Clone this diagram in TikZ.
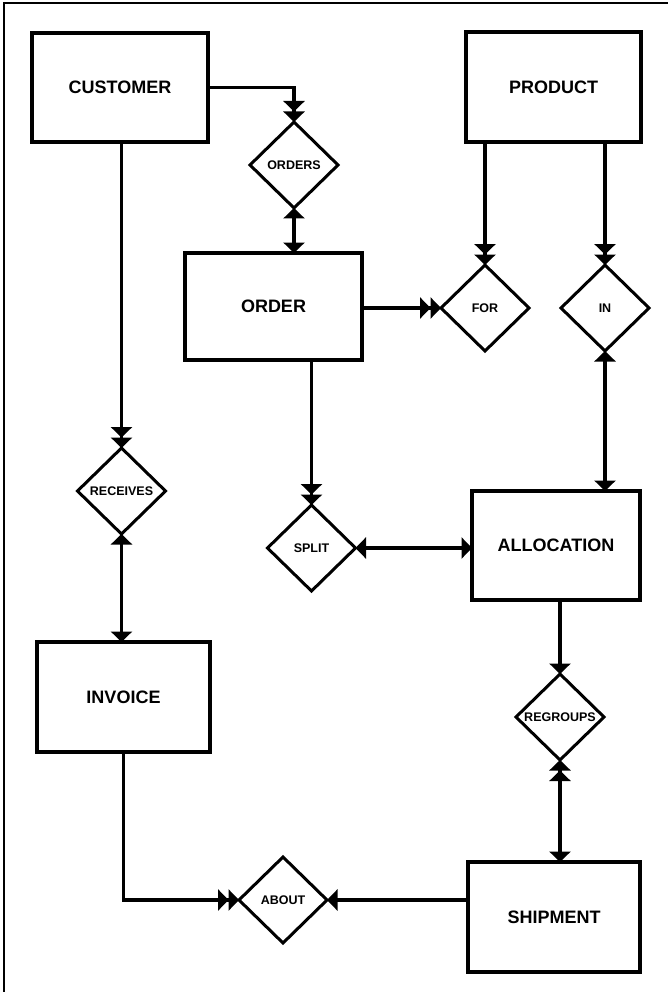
\documentclass[tikz,border=0pt]{standalone}
\usepackage{fontspec}
\setmainfont{Liberation Sans}
\usetikzlibrary{shapes.geometric,arrows.meta}
\tikzset{
  onetip/.tip={Triangle[width=21pt,length=10.5pt]},
  twotip/.tip={Triangle[width=21pt,length=10.5pt] Triangle[width=21pt,length=10.5pt]},
  entity/.style={draw, line width=3.2pt, inner sep=0pt, outer sep=0pt,
    font=\fontsize{18}{21}\selectfont\bfseries},
  relation/.style={draw, diamond, line width=3pt, minimum width=88pt,
    minimum height=86pt, inner sep=0pt, outer sep=0pt,
    font=\fontsize{12.5}{14}\selectfont\bfseries},
  link/.style={line width=3.4pt},
  frame/.style={line width=1.5pt},
}
\begin{document}
\begin{tikzpicture}[x=1pt,y=-1pt]
\useasboundingbox (0,0) rectangle (668,992);

% page frame (top and left rules)
\coordinate (fTL) at (4,3);
\coordinate (fTR) at (668,3);
\coordinate (fBL) at (4,992);
\draw[frame] (fTR) -- (fTL) -- (fBL);

% entities
\node[entity, minimum width=176pt, minimum height=109pt] (customer)   at (120,87.5)   {CUSTOMER};
\node[entity, minimum width=175pt, minimum height=110pt] (product)    at (553.5,87)   {PRODUCT};
\node[entity, minimum width=177pt, minimum height=107pt] (order)      at (273.5,306.5){ORDER};
\node[entity, minimum width=168pt, minimum height=109pt] (allocation) at (556,545.5)  {ALLOCATION};
\node[entity, minimum width=173pt, minimum height=110pt] (invoice)    at (123.5,697)  {INVOICE};
\node[entity, minimum width=172pt, minimum height=110pt] (shipment)   at (554,917)    {SHIPMENT};

% relationships
\node[relation] (rorders)   at (294,165)   {ORDERS};
\node[relation] (rfor)      at (485,308)   {FOR};
\node[relation] (rin)       at (605,308)   {IN};
\node[relation] (rreceives) at (121.5,491) {RECEIVES};
\node[relation] (rsplit)    at (311.5,548) {SPLIT};
\node[relation] (rregroups) at (560,717)   {REGROUPS};
\node[relation] (rabout)    at (283,900)   {ABOUT};

% connectors
\draw[link, -twotip] (customer.east) -| (rorders.north);
\draw[link, onetip-onetip] (rorders.south) -- (rorders.south |- order.north);
\draw[link, -twotip] (customer.south -| rreceives.north) -- (rreceives.north);
\draw[link, onetip-onetip] (rreceives.south) -- (rreceives.south |- invoice.north);
\draw[link, -twotip] (order.east |- rfor.west) -- (rfor.west);
\draw[link, -twotip] (rfor.north |- product.south) -- (rfor.north);
\draw[link, -twotip] (rin.north |- product.south) -- (rin.north);
\draw[link, onetip-onetip] (rin.south) -- (rin.south |- allocation.north);
\draw[link, -twotip] (rsplit.north |- order.south) -- (rsplit.north);
\draw[link, onetip-onetip] (rsplit.east) -- (rsplit.east -| allocation.west);
\draw[link, -onetip] (rregroups.north |- allocation.south) -- (rregroups.north);
\draw[link, twotip-onetip] (rregroups.south) -- (rregroups.south |- shipment.north);
\draw[link, -twotip] (invoice.south) |- (rabout.west);
\draw[link, -onetip] (shipment.west |- rabout.east) -- (rabout.east);
\end{tikzpicture}
\end{document}
